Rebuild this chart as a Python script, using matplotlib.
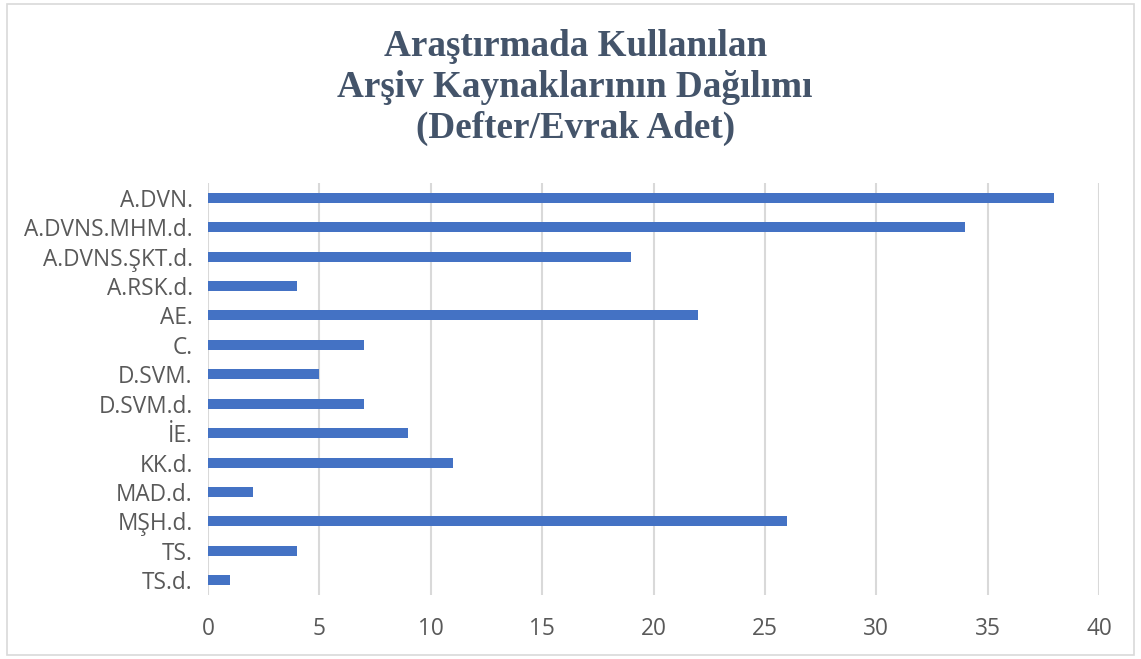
import matplotlib.pyplot as plt
from matplotlib.patches import Rectangle

# data
categories = ['A.DVN.', 'A.DVNS.MHM.d.', 'A.DVNS.ŞKT.d.', 'A.RSK.d.', 'AE.', 'C.',
              'D.SVM.', 'D.SVM.d.', 'İE.', 'KK.d.', 'MAD.d.', 'MŞH.d.', 'TS.', 'TS.d.']
counts = [38, 34, 19, 4, 22, 7, 5, 7, 9, 11, 2, 26, 4, 1]
xticks = [0, 5, 10, 15, 20, 25, 30, 35, 40]

title = 'Araştırmada Kullanılan\nArşiv Kaynaklarının Dağılımı\n(Defter/Evrak Adet)'

fig = plt.figure(figsize=(11.41, 6.59), dpi=100)
ax = fig.add_axes([0.1823, 0.0971, 0.7809, 0.6252])

ypos = list(range(len(categories)))
ax.barh(ypos, counts, height=0.34, color='#4472C4', zorder=3)
ax.set_ylim(len(categories) - 0.5, -0.5)
ax.set_yticks(ypos)
ax.set_yticklabels(categories, fontfamily='Open Sans', fontsize=16.3, color='#595959')
ax.set_xlim(0, 40)
ax.set_xticks(xticks)
ax.set_xticklabels([str(v) for v in xticks], fontfamily='Open Sans', fontsize=16.3, color='#595959')
ax.tick_params(length=0, pad=11)
ax.tick_params(axis='x', pad=16)
ax.grid(axis='x', color='#D9D9D9', linewidth=1.5, zorder=0)
for s in ax.spines.values():
    s.set_visible(False)

fig.text(0.504, 0.867, title, ha='center', va='center', fontfamily='Liberation Serif',
         fontweight='bold', fontsize=26.7, color='#44546A', linespacing=1.23)

fig.add_artist(Rectangle((0.006, 0.006), 0.988, 0.988, transform=fig.transFigure,
                         fill=False, edgecolor='#D9D9D9', linewidth=1.2))

fig.savefig('out.png', dpi=100)
